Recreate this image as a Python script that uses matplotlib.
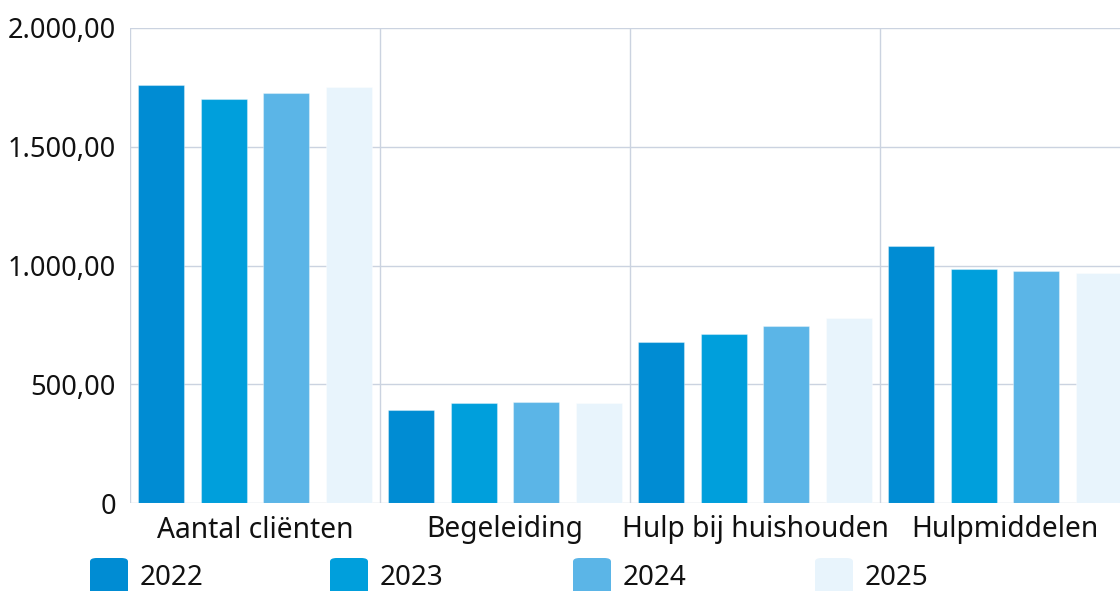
import matplotlib.pyplot as plt
import matplotlib.patches as mpatches
from matplotlib.ticker import FuncFormatter

categories = ["Aantal cliënten", "Begeleiding", "Hulp bij huishouden", "Hulpmiddelen"]
years = ["2022", "2023", "2024", "2025"]
values = {
    "2022": [1760, 390, 678, 1083],
    "2023": [1700, 420, 712, 984],
    "2024": [1725, 425, 745, 978],
    "2025": [1750, 422, 778, 968],
}
colors = ["#008cd3", "#009fdc", "#5bb5e7", "#e8f4fc"]

plt.rcParams['font.family'] = ['Noto Sans', 'DejaVu Sans']

fig = plt.figure(figsize=(11.2, 5.91), dpi=100)
# plot area runs past the right edge of the picture, like the original
ax = fig.add_axes([130/1120, 88/591, 1000/1120, 475/591])

grid_color = "#cbd3e0"
for y in range(0, 2001, 500):
    ax.axhline(y, color=grid_color, lw=1, zorder=0)
for x in range(len(categories) + 1):
    ax.axvline(x, color=grid_color, lw=1, zorder=0)

width = 0.184
for i, year in enumerate(years):
    xs = [c + 0.125 + 0.25*i for c in range(len(categories))]
    ax.bar(xs, values[year], width=width, color=colors[i], zorder=2,
           edgecolor=(1, 1, 1, 0.35), linewidth=0.8)

ax.set_xlim(0, 4)
ax.set_ylim(0, 2000)
for s in ax.spines.values():
    s.set_visible(False)

ax.set_xticks([c + 0.5 for c in range(len(categories))])
ax.set_xticklabels(categories, fontsize=20.3)
ax.set_yticks([0, 500, 1000, 1500, 2000])

def nl_fmt(v, pos):
    if v == 0:
        return "0"
    s = f"{v:,.2f}"
    return s.replace(",", "X").replace(".", ",").replace("X", ".")

ax.yaxis.set_major_formatter(FuncFormatter(nl_fmt))
ax.tick_params(axis='both', length=0, colors="#111111")
ax.tick_params(axis='y', pad=10, labelsize=19.6)
ax.tick_params(axis='x', pad=9)

# legend with rounded squares, partly cut off at the bottom
leg_x = [90, 330, 573, 815]
for i, year in enumerate(years):
    box = mpatches.FancyBboxPatch((leg_x[i]/1120, -0.01), 38/1120, (591-558)/591 + 0.01,
                                  boxstyle="round,pad=0,rounding_size=0.006",
                                  transform=fig.transFigure, facecolor=colors[i],
                                  edgecolor="none")
    fig.patches.append(box)
    fig.text((leg_x[i] + 50)/1120, (591-578)/591, year, fontsize=20,
             va='center', ha='left', color="#111111")

fig.savefig("out.png", dpi=100)
